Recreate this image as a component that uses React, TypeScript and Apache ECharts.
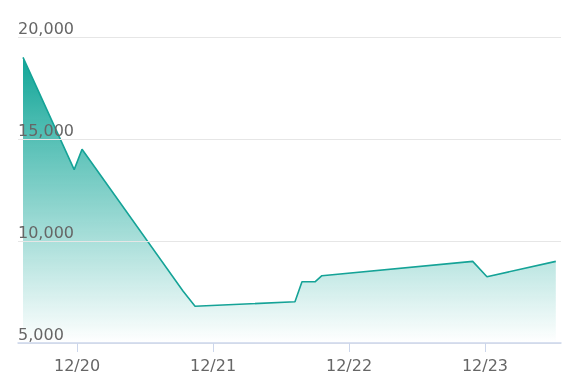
import React, { useEffect, useRef } from "react";
import * as echarts from "echarts";

const times: string[] = [
  "2023-12-19 14:28",
  "2023-12-19 23:30",
  "2023-12-20 00:53",
  "2023-12-20 18:42",
  "2023-12-20 20:50",
  "2023-12-21 14:28",
  "2023-12-21 15:42",
  "2023-12-21 18:00",
  "2023-12-21 19:13",
  "2023-12-22 21:50",
  "2023-12-23 00:21",
  "2023-12-23 12:30",
];
const values: number[] = [19000, 13500, 14500, 7550, 6800, 7020, 8000, 8000, 8300, 9000, 8250, 9000];
const xMin = "2023-12-19 13:35";
const xMax = "2023-12-23 13:25";
const yTicks: number[] = [5000, 10000, 15000, 20000];

export default function App() {
  const ref = useRef<HTMLDivElement>(null);
  useEffect(() => {
    if (!ref.current) return;
    const chart = echarts.init(ref.current, null, { renderer: "svg" });
    const fmtDate = (v: number) => {
      const d = new Date(v);
      return `${d.getMonth() + 1}/${d.getDate()}`;
    };
    chart.setOption({
      animation: false,
      grid: { left: 18, right: 17, top: 37, bottom: 49 },
      xAxis: {
        type: "time",
        min: xMin,
        max: xMax,
        minInterval: 86400000,
        maxInterval: 86400000,
        z: 5,
        axisLine: { show: true, lineStyle: { color: "#ccd6eb", width: 1.5 } },
        axisTick: { show: true, length: 9, lineStyle: { color: "#ccd6eb" } },
        splitLine: { show: false },
        axisLabel: {
          color: "#666",
          fontSize: 16,
          fontFamily: "DejaVu Sans",
          margin: 14,
          formatter: (v: number) => fmtDate(v),
          hideOverlap: false,
        },
      },
      yAxis: {
        type: "value",
        min: yTicks[0],
        max: yTicks[yTicks.length - 1],
        interval: 5000,
        z: 4,
        axisLine: { show: false },
        axisTick: { show: false },
        splitLine: { lineStyle: { color: "#e6e6e6", width: 1 } },
        axisLabel: {
          inside: true,
          margin: 0,
          align: "left",
          verticalAlign: "bottom",
          padding: [0, 0, 1, 0],
          color: "#666",
          fontSize: 16,
          fontFamily: "DejaVu Sans",
          formatter: (v: number) => v.toLocaleString("en-US"),
        },
      },
      series: [
        {
          type: "line",
          data: times.map((t, i) => [t, values[i]]),
          showSymbol: false,
          symbol: "none",
          lineStyle: { color: "#15a397", width: 1.6 },
          areaStyle: {
            opacity: 1,
            color: new echarts.graphic.LinearGradient(0, 0, 0, 1, [
              { offset: 0, color: "rgba(18,166,152,1)" },
              { offset: 1, color: "rgba(18,166,152,0)" },
            ]),
          },
        },
      ],
    });
    return () => chart.dispose();
  }, []);
  return (
    <div style={{ position: "fixed", left: 0, top: 0 }}>
      <div ref={ref} style={{ width: 578, height: 392 }} />
    </div>
  );
}
